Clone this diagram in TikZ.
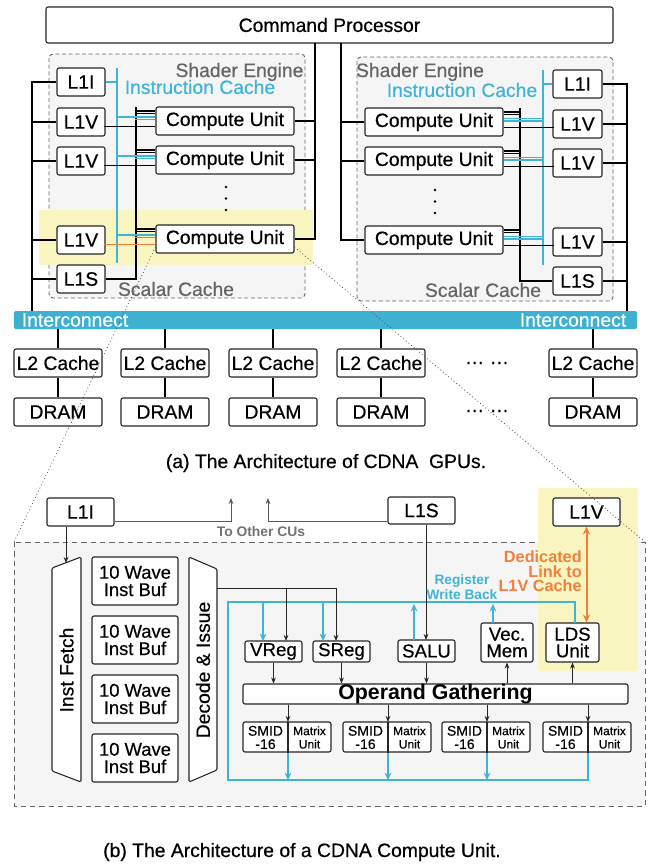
\documentclass[tikz,border=0pt]{standalone}
\usepackage{fontspec}
\setmainfont{Liberation Sans}[UprightFeatures={FakeBold=0.5}]
\usetikzlibrary{calc,arrows.meta}
\definecolor{cblue}{RGB}{64,180,212}
\definecolor{ibar}{RGB}{62,176,210}
\definecolor{corange}{RGB}{240,128,60}
\definecolor{hlyel}{RGB}{248,245,192}
\definecolor{sefill}{RGB}{245,245,245}
\definecolor{gtxt}{RGB}{100,100,100}
\newcommand\bx[7][]{\node[box,#1,minimum width={(#5-#3)*0.75pt},minimum height={(#6-#4)*0.75pt}] (#2) at ({(#3+#5)/2},{(#4+#6)/2}) {#7};}
\tikzset{
  box/.style={draw=black!85, fill=white, rounded corners=1.5pt, line width=0.8pt, inner sep=0pt, align=center, font=\fontsize{14.5}{12.5}\selectfont},
  lbl/.style={inner sep=0pt, font=\fontsize{14.5}{16}\selectfont},
  sebox/.style={draw=black!60, fill=sefill, dash pattern=on 3pt off 2pt, line width=0.7pt, rounded corners=3pt},
  bbox/.style={draw=black!60, fill=sefill, dash pattern=on 4pt off 3pt, line width=0.7pt},
  bus/.style={line width=1.1pt, black},
  tbus/.style={line width=0.9pt, black},
  ibus/.style={line width=1.1pt, cblue},
  tibus/.style={line width=0.9pt, cblue},
  oline/.style={line width=1.3pt, corange},
  shapeb/.style={draw=black!85, fill=white, line width=0.8pt, rounded corners=1pt},
  conn/.style={line width=0.6pt, black!85, -{Stealth[length=4.5pt,width=3.5pt]}},
  gconn/.style={line width=0.6pt, black!65, -{Stealth[length=4.5pt,width=3.5pt]}},
  bline/.style={line width=1.2pt, cblue},
  bconn/.style={line width=1.2pt, cblue, -{Stealth[length=5.5pt,width=5pt]}},
  oconn/.style={line width=1.5pt, corange, {Stealth[length=6pt,width=5.5pt]}-{Stealth[length=6pt,width=5.5pt]}},
  zoomline/.style={dotted, line width=0.6pt, black!70},
  wv/.style={font=\fontsize{13.8}{13}\selectfont},
  sm/.style={font=\fontsize{14}{12.5}\selectfont},
  smid/.style={inner sep=0pt, align=center, font=\fontsize{10.5}{10}\selectfont},
  mtx/.style={inner sep=0pt, align=center, font=\fontsize{9}{10}\selectfont},
}
\begin{document}
\begin{tikzpicture}[x=0.75pt,y=-0.75pt]
\useasboundingbox (0,0) rectangle (649,865);
\fill[white] (0,0) rectangle (649,865);

% ---------------- (a) ----------------
\draw[sebox] (49,54) rectangle (305,298);
\draw[sebox] (357,57) rectangle (613,301);
\fill[hlyel] (39,210) rectangle (313,265);

\node[lbl, text=gtxt] at (239.5,72) {Shader Engine};
\node[lbl, text=cblue] at (200,87) {Instruction Cache};
\node[lbl, text=gtxt] at (176,289) {Scalar Cache};
\node[lbl, text=gtxt] at (420,72) {Shader Engine};
\node[lbl, text=cblue] at (462,90) {Instruction Cache};
\node[lbl, text=gtxt] at (483,290) {Scalar Cache};

\bx{cp}{46}{7}{613}{43}{Command Processor}

% left shader engine
\bx{lIa}{57}{68}{105}{96}{L1I}
\bx{lVa1}{57}{108}{105}{136}{L1V}
\bx{lVa2}{57}{147}{105}{175}{L1V}
\bx{lVa3}{57}{226}{105}{254}{L1V}
\bx{lSa}{57}{265}{105}{293}{L1S}
\bx{cuA1}{156}{107}{294}{135}{Compute Unit}
\bx{cuA2}{156}{146}{294}{174}{Compute Unit}
\bx{cuA3}{156}{225}{294}{253}{Compute Unit}

\coordinate (lbus) at (32,312);
\coordinate (ibA) at (117,68);
\coordinate (ibAb) at (117,263);
\coordinate (sbA) at (136,107);
\draw[bus] (lIa.west) -| (lbus);
\foreach \n in {lVa1,lVa2,lVa3,lSa} \draw[bus] (\n.west) -- (\n.west -| lbus);
\draw[ibus] (ibA) -- (ibAb);
\draw[ibus] (lIa.east) -- (lIa.east -| ibA);
\draw[bus] (sbA) |- (lSa.east);
\foreach \n in {cuA1,cuA2,cuA3}{
  \draw[tbus] ($(\n.west)+(0,-10)$) -- ($(\n.west)+(-20,-10)$);
  \draw[tbus] ($(\n.west)+(0,-7.5)$) -- ($(\n.west)+(-20,-7.5)$);
  \draw[tibus] ($(\n.west)+(0,-4)$) -- ($(\n.west)+(-39,-4)$);
  \draw[tibus] ($(\n.west)+(0,-1.5)$) -- ($(\n.west)+(-20,-1.5)$);
}
\draw[bus] ($(cuA1.west)+(0,5.5)$) -- ($(cuA1.west)+(-51,5.5)$);
\draw[bus] ($(cuA2.west)+(0,5.5)$) -- ($(cuA2.west)+(-51,5.5)$);
\draw[oline] ($(cuA3.west)+(0,5.5)$) -- ($(cuA3.west)+(-51,5.5)$);

% right shader engine
\bx{cuB1}{365}{108}{503}{136}{Compute Unit}
\bx{cuB2}{365}{147}{503}{175}{Compute Unit}
\bx{cuB3}{365}{226}{503}{254}{Compute Unit}
\bx{lIb}{553}{70}{602}{98}{L1I}
\bx{lVb1}{553}{110}{602}{138}{L1V}
\bx{lVb2}{553}{149}{602}{177}{L1V}
\bx{lVb3}{553}{228}{602}{256}{L1V}
\bx{lSb}{553}{267}{602}{295}{L1S}

\coordinate (rbus) at (627,312);
\coordinate (ibB) at (543,70);
\coordinate (ibBb) at (543,265);
\coordinate (sbB) at (520,108);
\draw[bus] (lIb.east) -| (rbus);
\foreach \n in {lVb1,lVb2,lVb3,lSb} \draw[bus] (\n.east) -- (\n.east -| rbus);
\draw[ibus] (ibB) -- (ibBb);
\draw[ibus] (lIb.west) -- (lIb.west -| ibB);
\draw[bus] (sbB) |- (lSb.west);
\foreach \n in {cuB1,cuB2,cuB3}{
  \draw[tbus] ($(\n.east)+(0,-10)$) -- ($(\n.east)+(17,-10)$);
  \draw[tbus] ($(\n.east)+(0,-7.5)$) -- ($(\n.east)+(17,-7.5)$);
  \draw[tibus] ($(\n.east)+(0,-3.5)$) -- ($(\n.east)+(40,-3.5)$);
  \draw[tibus] ($(\n.east)+(0,-1)$) -- ($(\n.east)+(40,-1)$);
  \draw[bus] ($(\n.east)+(0,5.5)$) -- ($(\n.east)+(50,5.5)$);
}

% command processor links
\coordinate (cpA) at (315,43);
\coordinate (cpB) at (341,43);
\draw[bus] (cpA) |- (cuA3.east);
\draw[bus] (cuA1.east) -- (cuA1.east -| cpA);
\draw[bus] (cuA2.east) -- (cuA2.east -| cpA);
\draw[bus] (cpB) |- (cuB3.west);
\draw[bus] (cuB1.west) -- (cuB1.west -| cpB);
\draw[bus] (cuB2.west) -- (cuB2.west -| cpB);

% vertical dots
\foreach \y in {187,198.5,210} \fill (226,\y) circle (1.1pt);
\foreach \y in {190,201.5,213} \fill (435,\y) circle (1.1pt);

% interconnect
\node[fill=ibar, inner sep=0pt, minimum width={623*0.75pt}, minimum height={18*0.75pt}, rounded corners=1pt] (ic) at (325.5,320) {};
\node[lbl, text=white] at (75,320) {Interconnect};
\node[lbl, text=white] at (573,320) {Interconnect};

\foreach \c/\i in {58/1,165/2,273/3,381/4,593/5}{
  \bx{ltwo\i}{(\c-44)}{349}{(\c+44)}{377}{L2 Cache}
  \bx{dram\i}{(\c-44)}{398}{(\c+44)}{426}{DRAM}
  \draw[bus] (ltwo\i.north) -- (ltwo\i.north |- ic.south);
  \draw[bus] (ltwo\i.south) -- (dram\i.north);
}
\node[lbl] at (487,363) {… …};
\node[lbl] at (487,411) {… …};

\node[lbl] at (326,463) {(a) The Architecture of CDNA\ \ GPUs.};

% ---------------- (b) ----------------
\coordinate (bNW) at (14,542);
\coordinate (bNE) at (645,542);
\draw[bbox] (bNW) rectangle (645,806);
\fill[hlyel] (538,488) rectangle (638,671);

\bx{bI}{47}{498}{114}{526}{L1I}
\bx{bS}{388}{497}{455}{524}{L1S}
\bx{bV}{553}{498}{620}{526}{L1V}

\draw[shapeb] (52,568) -- (81,557) -- (81,782) -- (52,771) -- cycle;
\node[lbl, rotate=90] (ifetch) at (66.5,670) {Inst Fetch};
\draw[shapeb] (189,557) -- (217,569) -- (217,770) -- (189,782) -- cycle;
\node[lbl, rotate=90] (dec) at (203,670) {Decode \& Issue};

\bx[wv]{wb1}{92}{557}{178}{605}{10 Wave\\Inst Buf}
\bx[wv]{wb2}{92}{616}{178}{664}{10 Wave\\Inst Buf}
\bx[wv]{wb3}{92}{675}{178}{723}{10 Wave\\Inst Buf}
\bx[wv]{wb4}{92}{734}{178}{782}{10 Wave\\Inst Buf}

\bx[sm]{vreg}{245}{641}{302}{662}{VReg}
\bx[sm]{sreg}{313}{641}{370}{662}{SReg}
\bx[sm]{salu}{398}{640}{455}{662}{SALU}
\bx[sm]{vmem}{481}{623}{533}{662}{Vec.\\Mem}
\bx[sm]{lds}{546}{623}{599}{662}{LDS\\Unit}
\bx[font=\bfseries\fontsize{16}{16}\selectfont]{og}{243}{684}{628}{704}{Operand Gathering}

\foreach \xl/\i in {243/1,343/2,442/3,543/4}{
  \bx{sm\i}{\xl}{722}{(\xl+88)}{752}{}
  \coordinate (dv\i) at ({\xl+45},722);
  \draw[line width=0.8pt, black!85] (dv\i) -- (dv\i |- sm\i.south);
  \node[smid] at ({\xl+22.5},737.5) {SMID\\-16};
  \node[mtx] at ({\xl+66.5},737.5) {Matrix\\Unit};
  \draw[conn] (dv\i |- og.south) -- (dv\i);
}

% blue write-back loop
\coordinate (ldsB) at (575,623);
\coordinate (loopTL) at (228,602);
\coordinate (loopBL) at (228,780);
\draw[bline] (ldsB) |- (loopTL) -- (loopBL) -| (dv4 |- sm4.south);
\foreach \i in {1,2,3} \draw[bconn] (dv\i |- sm\i.south) -- (dv\i |- loopBL);
\coordinate (vregB) at (263,641);
\coordinate (sregB) at (323,641);
\coordinate (saluB) at (414,640);
\coordinate (vmemB) at (493,623);
\draw[bconn] (vregB |- loopTL) -- (vregB);
\draw[bconn] (sregB |- loopTL) -- (sregB);
\draw[bconn, shorten >=1.5pt] (saluB) -- (saluB |- loopTL);
\draw[bconn, shorten >=1.5pt] (vmemB) -- (vmemB |- loopTL);

% decode & issue / L1 links
\coordinate (decOut) at (217,588);
\coordinate (vregK) at (286,641);
\coordinate (sregK) at (336,641);
\coordinate (saluK) at (426,640);
\coordinate (ifTop) at (66,563);
\draw[conn] (decOut) -| (sregK);
\draw[conn] (vregK |- decOut) -- (vregK);
\draw[conn] (saluK |- bS.south) -- (saluK);
\draw[conn] (ifTop |- bI.south) -- (ifTop);

\coordinate (ocA) at (231,498);
\coordinate (ocB) at (268,498);
\draw[gconn] ($(bI.east)+(0,9)$) -| (ocA);
\draw[gconn] ($(bS.west)+(0,10.5)$) -| (ocB);
\node[inner sep=0pt, text=black!55, font=\bfseries\fontsize{10.4}{12}\selectfont] at (261,532) {To Other CUs};

% operand gathering links
\draw[conn] (vreg.south) -- (vreg.south |- og.north);
\draw[conn] (sreg.south) -- (sreg.south |- og.north);
\draw[conn] (salu.south) -- (salu.south |- og.north);
\draw[conn] (vmem.south |- og.north) -- (vmem.south);
\draw[conn] (lds.south |- og.north) -- (lds.south);

% dedicated link
\draw[oconn] (bV.south) -- (bV.south |- lds.north);
\node[inner sep=0pt, text=corange, align=right, anchor=east, font=\bfseries\fontsize{12.2}{11}\selectfont] at (582,571.5) {Dedicated\\Link to\\L1V Cache};
\node[inner sep=0pt, text=cblue, align=center, font=\bfseries\fontsize{10.3}{10.8}\selectfont] at (462,587) {Register\\Write Back};

\node[lbl] at (302,852) {(b) The Architecture of a CDNA Compute Unit.};

% zoom lines
\draw[zoomline] ($(cuA3.west)+(0,8)$) -- (bNW);
\draw[zoomline] ($(cuA3.east)+(0,8)$) -- (bNE);
\end{tikzpicture}
\end{document}
